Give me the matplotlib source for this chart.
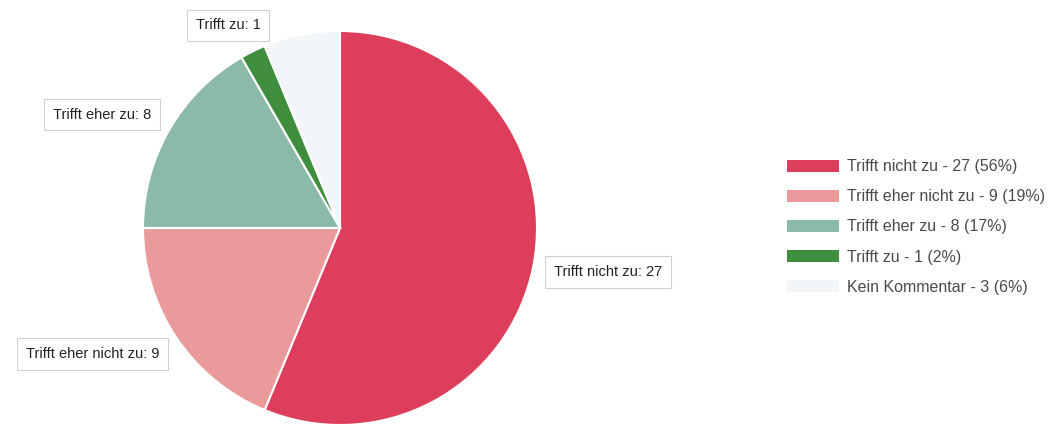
import matplotlib.pyplot as plt
import numpy as np
from matplotlib.patches import Rectangle

plt.rcParams['font.family'] = ['Liberation Sans', 'DejaVu Sans']

# data
categories = ['Trifft nicht zu', 'Trifft eher nicht zu', 'Trifft eher zu', 'Trifft zu', 'Kein Kommentar']
counts = [27, 9, 8, 1, 3]
colors = ['#DC3E5B', '#EA9A9B', '#8BBAA9', '#3E8E3D', '#F3F6F8']
show_label = [True, True, True, True, False]

W, H = 1048, 428
fig = plt.figure(figsize=(W / 100, H / 100), dpi=100)

# pie axes: centre (340, 228) px from top, radius 197 px
cx, cy, r = 340, 228, 197
ax = fig.add_axes([(cx - r) / W, (H - cy - r) / H, 2 * r / W, 2 * r / H])
wedges, _ = ax.pie(counts, colors=colors, startangle=90, counterclock=False,
                   radius=1.0, wedgeprops=dict(edgecolor='white', linewidth=1.5))
ax.set_xlim(-1, 1)
ax.set_ylim(-1, 1)
ax.set_aspect('equal')
ax.axis('off')

box = dict(boxstyle='square,pad=0.6', facecolor='white', edgecolor='#d0d0d0', linewidth=0.8)
for w, cat, n, show in zip(wedges, categories, counts, show_label):
    if not show:
        continue
    mid = np.deg2rad((w.theta1 + w.theta2) / 2)
    x, y = 1.105 * np.cos(mid), 1.15 * np.sin(mid)
    if np.sin(mid) > 0.85:
        # small slice near the top: label sits above it
        ha, va = 'center', 'center'
        x -= 0.08
        y = 0.91 * 1.13
    else:
        ha = 'left' if np.cos(mid) > 0 else 'right'
        va = 'center'
    ax.text(x, y, f'{cat}: {n}', ha=ha, va=va, fontsize=10.5, color='#222222',
            bbox=box, clip_on=False)

total = sum(counts)
handles = [Rectangle((0, 0), 1, 1, facecolor=c, edgecolor='none') for c in colors]
labels = [f'{c} - {n} ({round(100 * n / total)}%)' for c, n in zip(categories, counts)]
fig.legend(handles, labels, loc='center left', bbox_to_anchor=(787 / W, 1 - 227 / H),
           frameon=False, fontsize=11.5, handlelength=3.25, handleheight=0.75,
           handletextpad=0.5, labelspacing=0.94, borderpad=0, borderaxespad=0,
           labelcolor='#4a4a4a')

fig.savefig('out.png', dpi=100)
